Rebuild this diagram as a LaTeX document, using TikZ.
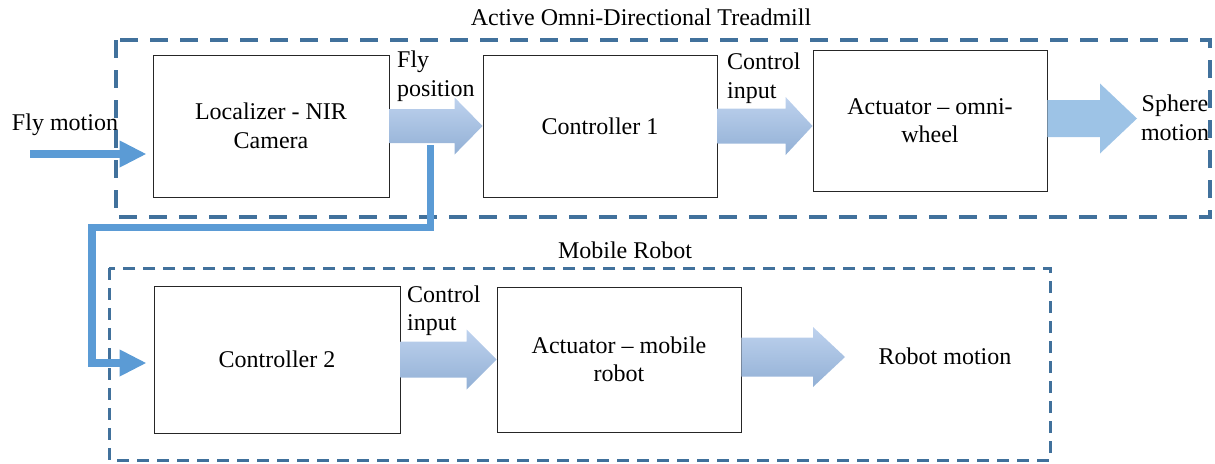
\documentclass[tikz,border=0pt]{standalone}
\usepackage{fontspec}
\setmainfont{Liberation Serif}
\usetikzlibrary{arrows.meta,calc}

\definecolor{frameblue}{RGB}{65,113,156}
\definecolor{flowblue}{RGB}{91,155,213}
\definecolor{shadetop}{RGB}{190,210,238}
\definecolor{shadebot}{RGB}{146,176,213}
\definecolor{spherefill}{RGB}{157,195,230}

% Block arrow from the y of #2 to the x of #3:
% #1 style, #4 shaft half-width, #5 head half-width, #6 head length
\newcommand\FatArrow[6]{%
  \path[#1] let \p1=(#2), \p2=(#3) in
    (\x1,\y1+#4) -- (\x2-#6,\y1+#4) -- (\x2-#6,\y1+#5) -- (\x2,\y1)
    -- (\x2-#6,\y1-#5) -- (\x2-#6,\y1-#4) -- (\x1,\y1-#4) -- cycle;}

\tikzset{
  txt/.style={inner sep=0pt, font=\fontsize{24}{28.5}\selectfont},
  block/.style={txt, draw=black!85, line width=0.85pt, align=center},
  frameA/.style={draw=frameblue, line width=3.2pt, dash pattern=on 18pt off 12pt},
  frameB/.style={draw=frameblue, line width=3pt, dash pattern=on 12pt off 8pt},
  flowline/.style={draw=flowblue, line width=7.5pt, line join=miter,
    -{Triangle[length=27pt,width=25pt]}},
  fatshade/.style={top color=shadetop, bottom color=shadebot, draw=none},
  fatsolid/.style={fill=spherefill, draw=none},
}

\begin{document}
\begin{tikzpicture}[x=1pt, y=-1pt]
\useasboundingbox (0,0) rectangle (1215,463);

% dashed frames
\draw[frameA] (116,40) rectangle (1210,217);
\draw[frameB] (109,268) rectangle (1050,460);
\node[txt] (treadmill) at (641,17) {Active Omni-Directional Treadmill};
\node[txt] (mobile) at (625,250) {Mobile Robot};

% blocks
\node[block, minimum width=236, minimum height=142] (loc) at (271,126) {Localizer - NIR\\Camera};
\node[block, minimum width=234, minimum height=142] (ctl1) at (600,126) {Controller 1};
\node[block, minimum width=234, minimum height=141] (act1) at (930,120.5) {Actuator -- omni-\\wheel};
\node[block, minimum width=246, minimum height=147] (ctl2) at (277,359.5) {Controller 2};
\node[block, minimum width=244, minimum height=145] (act2) at (619,359.5) {Actuator -- mobile\\robot};

% labels
\node[txt] (flymot) at (65,125) {Fly motion};
\node[txt, align=left, anchor=west] (flypos) at (397,76) {Fly\\position};
\node[txt, align=left, anchor=west] (ci1) at (727,78) {Control\\input};
\node[txt, align=center] (sph) at (1175,118) {Sphere\\motion};
\node[txt, align=left, anchor=west] (ci2) at (407,310.5) {Control\\input};
\node[txt] (robmot) at (945,356) {Robot motion};

% block arrows
\coordinate (sphstart) at ($(act1.east)+(0,-2)$);
\coordinate (sphtip) at (1137,118);
\coordinate (robtip) at (845,357);
\coordinate (robstart) at ($(act2.east)+(0,-2.5)$);
\FatArrow{fatshade}{loc.east}{ctl1.west}{17pt}{28.5pt}{28pt}
\FatArrow{fatshade}{ctl1.east}{act1.west}{17.5pt}{29pt}{27pt}
\FatArrow{fatsolid}{sphstart}{sphtip}{18.5pt}{35pt}{37pt}
\FatArrow{fatshade}{ctl2.east}{act2.west}{18pt}{30pt}{30pt}
\FatArrow{fatshade}{robstart}{robtip}{19.5pt}{30pt}{32pt}

% input and feedback lines
\coordinate (flyin) at (30,154);
\coordinate (flytip) at ($(loc.west)+(-6,28)$);
\draw[flowline] (flyin) -- (flytip);
\coordinate (fbstart) at ($(loc.east)+(41,19)$);
\coordinate (fbtip) at ($(ctl2.west)+(-7,3.5)$);
\draw[flowline] (fbstart) -- ++(0,82.5) -| ($(fbtip)+(-54.5,0)$) -- (fbtip);
\end{tikzpicture}
\end{document}
